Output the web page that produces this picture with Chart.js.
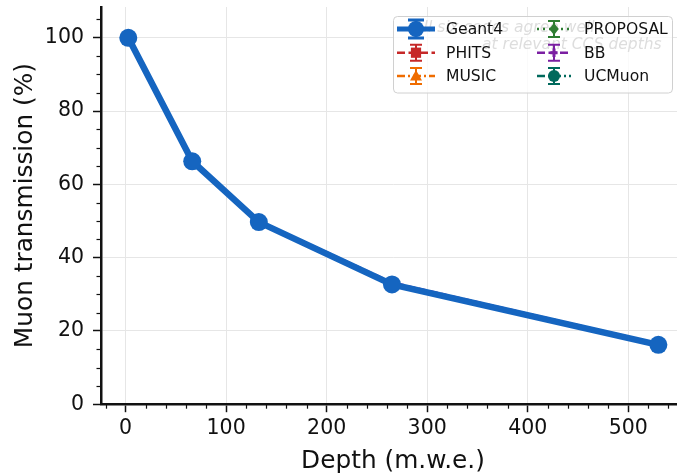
<!DOCTYPE html>
<html>
<head>
<meta charset="utf-8">
<script src="https://cdn.jsdelivr.net/npm/chart.js@4.4.1/dist/chart.umd.min.js"></script>
<style>
  html, body { margin: 0; padding: 0; background: #fff; overflow: hidden; }
  #wrap { width: 677px; height: 475px; overflow: hidden; }
  canvas { display: block; }
</style>
</head>
<body>
<div id="wrap"><canvas id="c" width="690" height="475" style="width:690px;height:475px"></canvas></div>
<script>
// ---- data ----
const depths = [2.65, 66.25, 132.5, 265, 530];
const geant4 = [100, 66.3, 49.7, 32.7, 16.2];
const phits = [100, 66.1, 49.5, 32.5, 16.0];
const music = [100, 66.4, 49.8, 32.9, 16.3];
const proposal = [100, 66.2, 49.6, 32.6, 16.1];
const bb = [100, 66.5, 50.0, 33.2, 16.5];
const ucmuon = [100, 66.3, 49.7, 32.8, 16.2];
const seriesNames = ['Geant4', 'PHITS', 'MUSIC', 'PROPOSAL', 'BB', 'UCMuon'];
const xTicks = [0, 100, 200, 300, 400, 500];
const yTicks = [0, 20, 40, 60, 80, 100];
const xTitle = 'Depth (m.w.e.)';
const yTitle = 'Muon transmission (%)';
const noteLines = ['All six codes agree well', 'at relevant CCS depths'];

// ---- styles ----
const FONT = '"DejaVu Sans", "Liberation Sans", sans-serif';
const colors = ['#1565c0', '#c62828', '#ef6c00', '#2e7d32', '#7b1fa2', '#00695c'];
const dashes = [[], [8, 3.5], [8, 3, 2, 3], [2, 4], [8, 3.5], [8, 3, 2, 3]];
const markers = ['circle', 'rect', 'triangle', 'rectRot', 'crossRot', 'circle'];
const values = [geant4, phits, music, proposal, bb, ucmuon];

const datasets = values.map((v, i) => ({
  label: seriesNames[i],
  data: depths.map((d, j) => ({ x: d, y: v[j] })),
  borderColor: colors[i],
  backgroundColor: colors[i],
  borderWidth: i === 0 ? 6.5 : 2.5,
  borderDash: dashes[i],
  pointStyle: markers[i],
  pointRadius: i === 0 ? 9 : 6,
  pointBorderWidth: i === 0 ? 0 : 1,
  pointBackgroundColor: colors[i],
  pointBorderColor: colors[i],
  tension: 0,
  fill: false
}));

function drawMarker(ctx, style, x, y, r, color) {
  ctx.save();
  ctx.fillStyle = color; ctx.strokeStyle = color; ctx.setLineDash([]);
  ctx.beginPath();
  if (style === 'circle') { ctx.arc(x, y, r, 0, Math.PI * 2); ctx.fill(); }
  else if (style === 'rect') { ctx.fillRect(x - r * 0.85, y - r * 0.85, r * 1.7, r * 1.7); }
  else if (style === 'triangle') { ctx.moveTo(x, y - r); ctx.lineTo(x + r, y + r * 0.75); ctx.lineTo(x - r, y + r * 0.75); ctx.closePath(); ctx.fill(); }
  else if (style === 'rectRot') { ctx.moveTo(x, y - r); ctx.lineTo(x + r * 0.8, y); ctx.lineTo(x, y + r); ctx.lineTo(x - r * 0.8, y); ctx.closePath(); ctx.fill(); }
  else if (style === 'crossRot') { ctx.lineWidth = 3; ctx.moveTo(x - r * 0.6, y); ctx.lineTo(x + r * 0.6, y); ctx.moveTo(x, y - r * 0.7); ctx.lineTo(x, y + r * 0.7); ctx.stroke(); }
  ctx.restore();
}

const extras = {
  id: 'extras',
  afterDraw(chart) {
    const ctx = chart.ctx;
    const xs = chart.scales.x, ys = chart.scales.y;
    const area = chart.chartArea;
    ctx.save();
    // minor ticks
    ctx.strokeStyle = '#111'; ctx.lineWidth = 1.2;
    for (let v = -20; v <= 560; v += 20) {
      if (v % 100 === 0 || v < xs.min || v > xs.max) continue;
      const px = Math.round(xs.getPixelForValue(v)) + 0.5;
      ctx.beginPath(); ctx.moveTo(px, area.bottom); ctx.lineTo(px, area.bottom + 4.5); ctx.stroke();
    }
    for (let v = 0; v <= ys.max; v += 5) {
      if (v % 20 === 0) continue;
      const py = Math.round(ys.getPixelForValue(v)) + 0.5;
      ctx.beginPath(); ctx.moveTo(area.left, py); ctx.lineTo(area.left - 4.5, py); ctx.stroke();
    }
    // annotation text (behind legend)
    ctx.font = 'italic 15.5px ' + FONT;
    ctx.fillStyle = '#555';
    ctx.textBaseline = 'alphabetic';
    ctx.textAlign = 'left';
    ctx.fillText(noteLines[0], 413, 31.5);
    ctx.fillText(noteLines[1], 482, 48.5);
    // legend box
    const bx = 393.5, by = 16.5, bw = 279, bh = 76.5, rr = 4;
    ctx.beginPath();
    ctx.moveTo(bx + rr, by); ctx.lineTo(bx + bw - rr, by); ctx.quadraticCurveTo(bx + bw, by, bx + bw, by + rr);
    ctx.lineTo(bx + bw, by + bh - rr); ctx.quadraticCurveTo(bx + bw, by + bh, bx + bw - rr, by + bh);
    ctx.lineTo(bx + rr, by + bh); ctx.quadraticCurveTo(bx, by + bh, bx, by + bh - rr);
    ctx.lineTo(bx, by + rr); ctx.quadraticCurveTo(bx, by, bx + rr, by);
    ctx.closePath();
    ctx.fillStyle = 'rgba(255,255,255,0.8)'; ctx.fill();
    ctx.strokeStyle = '#d0d0d0'; ctx.lineWidth = 1; ctx.stroke();
    // legend entries
    const rows = [29, 52.7, 76];
    const cols = [{ h0: 397, h1: 435, tx: 446 }, { h0: 537, h1: 571, tx: 584 }];
    ctx.font = '15.6px ' + FONT;
    ctx.textBaseline = 'middle';
    chart.data.datasets.forEach((ds, i) => {
      const col = cols[Math.floor(i / 3)], y = rows[i % 3];
      const cx = (col.h0 + col.h1) / 2;
      ctx.save();
      ctx.strokeStyle = ds.borderColor;
      ctx.lineWidth = i === 0 ? 5 : 2.5;
      ctx.setLineDash(ds.borderDash);
      ctx.beginPath(); ctx.moveTo(col.h0, y); ctx.lineTo(col.h1, y); ctx.stroke();
      ctx.setLineDash([]);
      ctx.lineWidth = i === 0 ? 3 : 2;
      const eh = i === 0 ? 9 : 8, cw = i === 0 ? 8 : 6;
      ctx.beginPath();
      ctx.moveTo(cx, y - eh); ctx.lineTo(cx, y + eh);
      ctx.moveTo(cx - cw, y - eh); ctx.lineTo(cx + cw, y - eh);
      ctx.moveTo(cx - cw, y + eh); ctx.lineTo(cx + cw, y + eh);
      ctx.stroke();
      ctx.restore();
      drawMarker(ctx, ds.pointStyle, cx, y, i === 0 ? 8 : 6, ds.borderColor);
      ctx.fillStyle = '#111';
      ctx.fillText(ds.label, col.tx, y + 1);
    });
    ctx.restore();
  }
};

new Chart(document.getElementById('c'), {
  type: 'line',
  data: { datasets },
  options: {
    responsive: false,
    devicePixelRatio: 1,
    animation: false,
    layout: { autoPadding: false, padding: { left: 0, right: 5, top: 7, bottom: 0 } },
    plugins: { legend: { display: false }, tooltip: { enabled: false } },
    scales: {
      x: {
        type: 'linear',
        min: -24.5, max: 556.5,
        afterBuildTicks: s => { s.ticks = xTicks.map(v => ({ value: v })); },
        afterFit: s => { s.height = 70.8; s.paddingLeft = 0; s.paddingRight = 0; },
        grid: { color: '#e6e6e6', lineWidth: 1, drawTicks: true, tickLength: 8, tickColor: '#111', tickWidth: 1.5 },
        border: { display: true, color: '#111', width: 2.5 },
        ticks: { color: '#111', font: { family: FONT, size: 20.5 }, padding: 4.5, maxRotation: 0 },
        title: { display: true, text: xTitle, color: '#111', font: { family: FONT, size: 24.8 }, padding: { top: 0, bottom: -1 } }
      },
      y: {
        type: 'linear',
        min: 0, max: 108.4,
        afterBuildTicks: s => { s.ticks = yTicks.map(v => ({ value: v })); },
        afterFit: s => { s.width = 101; s.paddingTop = 0; s.paddingBottom = 0; },
        grid: { color: '#e6e6e6', lineWidth: 1, drawTicks: true, tickLength: 8, tickColor: '#111', tickWidth: 1.5 },
        border: { display: true, color: '#111', width: 2.5 },
        ticks: { color: '#111', font: { family: FONT, size: 20.5 }, padding: 9 },
        title: { display: true, text: yTitle, color: '#111', font: { family: FONT, size: 24.8 }, padding: { top: 11, bottom: 0 } }
      }
    }
  },
  plugins: [extras]
});
</script>
</body>
</html>
